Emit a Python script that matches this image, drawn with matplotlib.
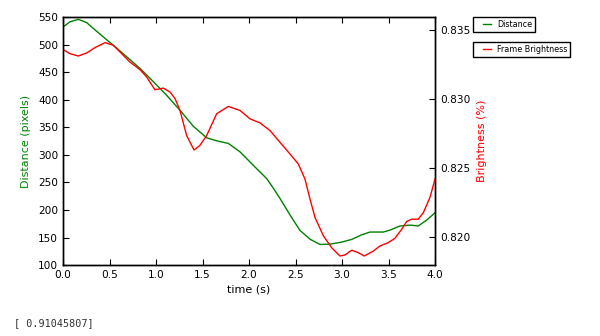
import matplotlib
matplotlib.use("Agg")
import matplotlib.pyplot as plt
from matplotlib.lines import Line2D
from matplotlib.legend_handler import HandlerLine2D

# Distance series (pixels)
t_dist = [0.0, 0.075, 0.165, 0.255, 0.326, 0.434, 0.541, 0.685, 0.828, 0.971, 1.115, 1.258,
          1.401, 1.545, 1.652, 1.778, 1.903, 2.047, 2.19, 2.26, 2.333, 2.441, 2.548, 2.656,
          2.763, 2.871, 2.996, 3.104, 3.212, 3.301, 3.444, 3.516, 3.624, 3.731, 3.82, 3.91, 4.0]
distance = [532, 541.5, 546, 540, 529.5, 514, 499, 478, 457, 433, 408, 381,
            352, 331, 325.6, 320.8, 305.6, 281, 257, 240, 221, 191, 163, 147,
            137.5, 138, 141.7, 146.6, 155, 160, 160, 163.5, 171, 172.6, 171, 181.6, 195]

# Frame brightness series
t_bright = [0.0, 0.075, 0.165, 0.255, 0.344, 0.452, 0.541, 0.631, 0.72, 0.828, 0.90, 0.989,
            1.079, 1.151, 1.204, 1.258, 1.33, 1.409, 1.47, 1.545, 1.652, 1.778, 1.903, 2.011,
            2.118, 2.226, 2.333, 2.441, 2.53, 2.602, 2.656, 2.71, 2.80, 2.889, 2.978, 3.03,
            3.104, 3.176, 3.24, 3.337, 3.409, 3.498, 3.57, 3.642, 3.695, 3.749, 3.82, 3.875,
            3.946, 4.0]
brightness = [0.8336, 0.8333, 0.83313, 0.83335, 0.83374, 0.8341, 0.83391, 0.8333, 0.83269,
              0.83214, 0.8316, 0.83068, 0.8308, 0.83051, 0.83005, 0.82918, 0.82735, 0.82631,
              0.82663, 0.82736, 0.82894, 0.82947, 0.82918, 0.82857, 0.82828, 0.82772, 0.82687,
              0.82602, 0.8253, 0.8242, 0.82275, 0.82141, 0.82008, 0.81922, 0.81862, 0.81869,
              0.81904, 0.81886, 0.81862, 0.81898, 0.81935, 0.81959, 0.81991, 0.82056, 0.82112,
              0.82129, 0.82129, 0.82177, 0.82287, 0.8242]

x_ticks = [0.0, 0.5, 1.0, 1.5, 2.0, 2.5, 3.0, 3.5, 4.0]
left_ticks = [100, 150, 200, 250, 300, 350, 400, 450, 500, 550]
right_ticks = [0.820, 0.825, 0.830, 0.835]

plt.rcParams.update({
    "font.family": ["DejaVu Sans"],
    "font.size": 7.6,
    "xtick.direction": "in",
    "ytick.direction": "in",
    "xtick.top": True,
    "xtick.major.size": 4,
    "ytick.major.size": 4,
    "axes.linewidth": 1.0,
})

green = (0, 0.5, 0)
fig = plt.figure(figsize=(6.0, 3.36), dpi=100)
ax = fig.add_axes([0.105, 0.211, 0.62, 0.738])
l1, = ax.plot(t_dist, distance, color=green, lw=1.0, label="Distance")
ax.set_xlim(0, 4)
ax.set_ylim(100, 550)
ax.set_xticks(x_ticks)
ax.set_xticklabels([f"{v:.1f}" for v in x_ticks])
ax.set_yticks(left_ticks)
ax.set_xlabel("time (s)", fontsize=8, labelpad=3)
ax.set_ylabel("Distance (pixels)", color=green, fontsize=8, labelpad=5)

ax2 = ax.twinx()
l2, = ax2.plot(t_bright, brightness, color="red", lw=1.0, label="Frame Brightness")
ax2.set_ylim(0.81796, 0.83595)
ax2.set_yticks(right_ticks)
ax2.set_yticklabels([f"{v:.3f}" for v in right_ticks])
ax2.set_ylabel("Brightness (%)", color="red", fontsize=8, labelpad=5)
ax.tick_params(right=False)

leg_kw = dict(loc="upper left", fontsize=5.8, fancybox=False, edgecolor="black",
              framealpha=1, handlelength=1.86, handletextpad=0.74, borderpad=0.37,
              borderaxespad=0, handler_map={Line2D: HandlerLine2D(xpad=0.87)})
leg1 = ax.legend(handles=[l1], bbox_to_anchor=(1.102, 1.0), **leg_kw)
leg1.get_frame().set_linewidth(1.0)
leg2 = ax2.legend(handles=[l2], bbox_to_anchor=(1.102, 0.899), **leg_kw)
leg2.get_frame().set_linewidth(1.0)

fig.text(0.023, 0.03, "[ 0.91045807]", family="DejaVu Sans Mono", fontsize=7.3, color="#333333")

fig.savefig("out.png", dpi=100, facecolor="white")
